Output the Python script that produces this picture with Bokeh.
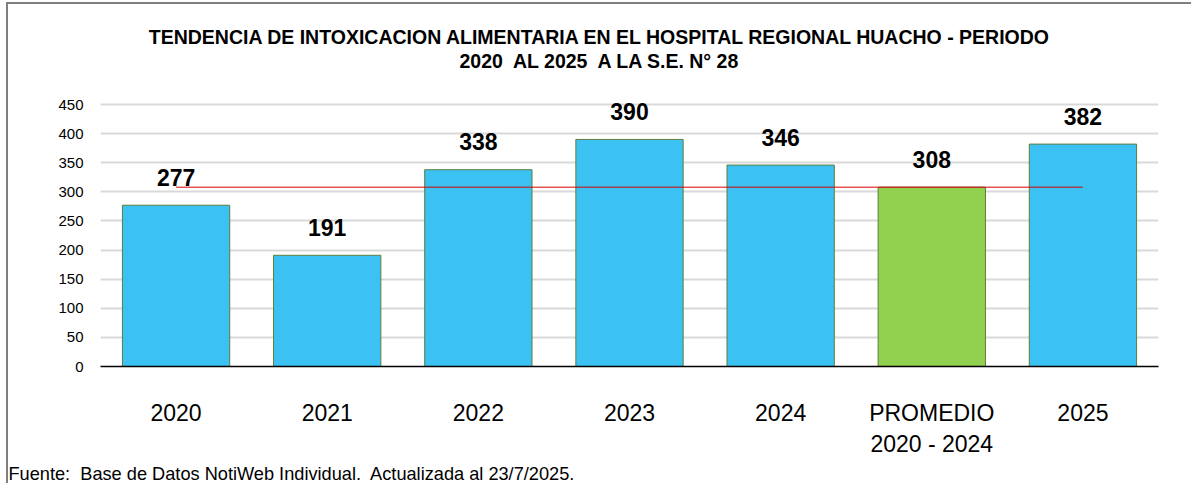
from bokeh.plotting import figure
from bokeh.models import ColumnDataSource, LabelSet, Label, FactorRange, Title, Range1d
from bokeh.core.properties import value
from bokeh.embed import file_html
from bokeh.resources import INLINE

categories = ["2020", "2021", "2022", "2023", "2024", "PROMEDIO\n2020 - 2024", "2025"]
values = [277, 191, 338, 390, 346, 308, 382]
colors = ["#3BC2F2", "#3BC2F2", "#3BC2F2", "#3BC2F2", "#3BC2F2", "#92D050", "#3BC2F2"]
average = 308
y_ticks = [0, 50, 100, 150, 200, 250, 300, 350, 400, 450]
title_lines = ["TENDENCIA DE INTOXICACION ALIMENTARIA EN EL HOSPITAL REGIONAL HUACHO - PERIODO",
               "2020\u00a0 AL 2025\u00a0 A LA S.E. N° 28"]
footer = "Fuente:\u00a0 Base de Datos NotiWeb Individual.\u00a0 Actualizada al 23/7/2025."

FONT = "'Liberation Sans Narrow', 'Arial Narrow', 'Liberation Sans', Arial, sans-serif"
W, H = 1185, 481          # canvas size (page offset 8, 4 because of border/margin)
FRAME_H = 362             # frame spans from canvas top to x axis
PX_PER_UNIT = 262 / 450
y_top = FRAME_H / PX_PER_UNIT   # extra empty room above 450 holds the title

p = figure(x_range=FactorRange(*categories), y_range=Range1d(0, y_top), width=W, height=H,
           output_backend="svg", toolbar_location=None,
           min_border_left=92, min_border_right=35, min_border_top=0, min_border_bottom=119)
p.styles = {"margin-left": "6px", "margin-top": "2px",
            "border-left": "2px solid #7F7F7F", "border-top": "2px solid #7F7F7F"}
p.outline_line_color = None
p.background_fill_color = "white"
p.border_fill_color = "white"

src = ColumnDataSource(dict(cat=categories, val=values, color=colors,
                            lab=[str(v) for v in values]))
p.vbar(x="cat", top="val", width=0.71, source=src, fill_color="color",
       line_color="#5E7D3C", line_width=1)

# average line from first to last category centre
p.line(x=[categories[0], categories[-1]], y=[average, average], line_color="#D80000", line_width=1)

labels = LabelSet(x="cat", y="val", text="lab", source=src, y_offset=28,
                  text_align="center", text_baseline="middle",
                  text_font=value(FONT), text_font_size="23px", text_font_style="bold",
                  text_color="black")
p.add_layout(labels)

# axes
p.yaxis.ticker = y_ticks
p.yaxis.axis_line_color = None
p.yaxis.major_tick_line_color = None
p.yaxis.minor_tick_line_color = None
p.yaxis.major_label_text_font = FONT
p.yaxis.major_label_text_font_size = "15px"
p.yaxis.major_label_text_color = "black"
p.yaxis.major_label_standoff = 11

p.xaxis.axis_line_color = "black"
p.xaxis.axis_line_width = 1.5
p.xaxis.major_tick_line_color = None
p.xaxis.minor_tick_line_color = None
p.xaxis.major_label_text_font = FONT
p.xaxis.major_label_text_font_size = "23px"
p.xaxis.major_label_text_color = "black"
p.xaxis.major_label_standoff = 27

p.xgrid.grid_line_color = None
p.ygrid.grid_line_color = "#D9D9D9"
p.ygrid.grid_line_width = 2

# title lines inside the (empty) upper part of the frame; screen units are frame-relative
p.add_layout(Label(x=500, y=FRAME_H - 32.5, x_units="screen", y_units="screen", text=title_lines[0],
                   text_align="center", text_baseline="middle", text_font=FONT,
                   text_font_size="19.5px", text_font_style="bold", text_color="black"))
p.add_layout(Label(x=500, y=FRAME_H - 56, x_units="screen", y_units="screen", text=title_lines[1],
                   text_align="center", text_baseline="middle", text_font=FONT,
                   text_font_size="19.5px", text_font_style="bold", text_color="black"))

# footer
p.add_layout(Title(text=footer, align="left", offset=-92, text_font=FONT, text_color="black",
                   text_font_size="18.2px", text_font_style="normal", standoff=4), "below")

open("out.html", "w").write(file_html(p, INLINE))
